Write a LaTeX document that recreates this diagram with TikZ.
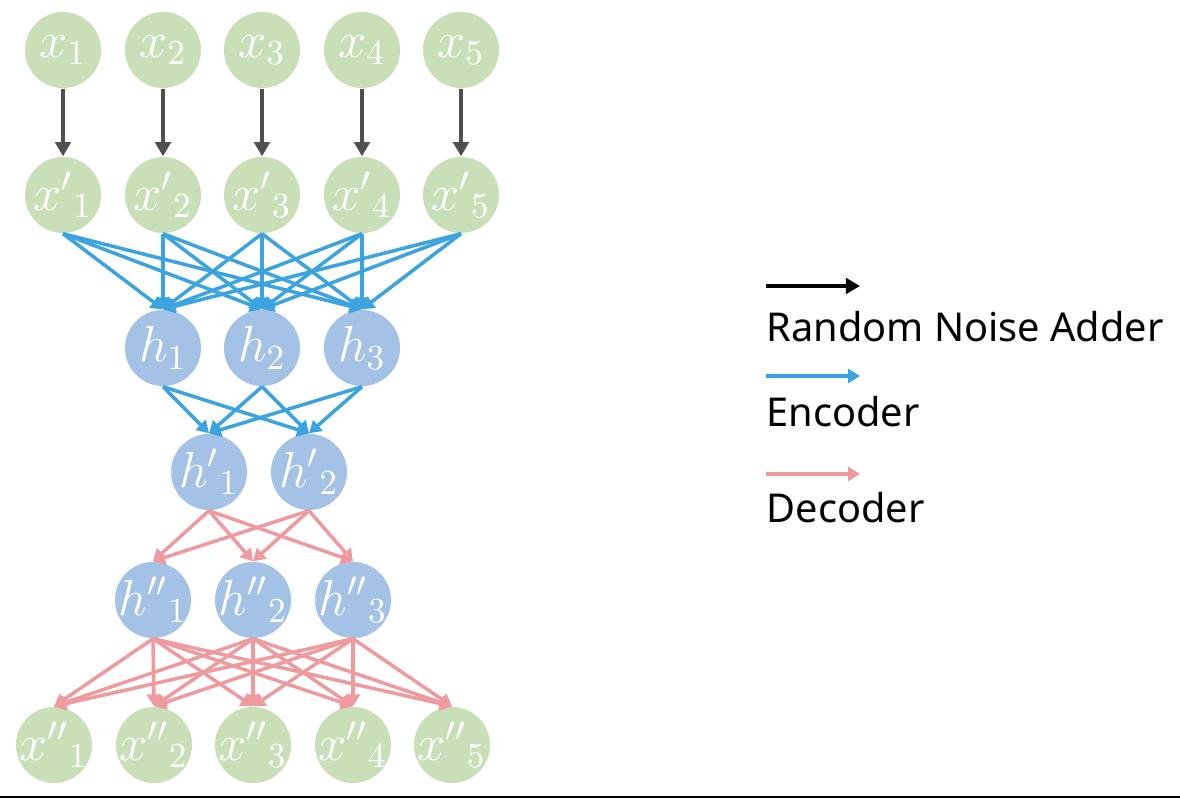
\documentclass[tikz,border=0pt]{standalone}
\usepackage{amsmath}
\usepackage{fontspec}
\newfontfamily\legendfont{Noto Sans}
\usetikzlibrary{arrows.meta}

\definecolor{inputgreen}{HTML}{C8DFB8}
\definecolor{hiddenblue}{HTML}{A3C2E6}
\definecolor{encblue}{HTML}{3AA3E0}
\definecolor{decpink}{HTML}{EE9A9E}
\definecolor{noisegray}{HTML}{4F4F4F}

\tikzset{
  neuron/.style={circle, minimum size=0.76cm, inner sep=-3pt, text=white,
    font=\fontsize{14.5}{16}\selectfont},
  xnode/.style={neuron, fill=inputgreen},
  hnode/.style={neuron, fill=hiddenblue},
  noise/.style={noisegray, line width=0.95pt, -{Triangle[length=4pt, width=4.4pt]}},
  enc/.style={encblue, line width=1pt, -{Triangle[length=3.4pt, width=4pt]}},
  dec/.style={decpink, line width=1pt, -{Triangle[length=3.4pt, width=4pt]}},
  legendtext/.style={anchor=base west, inner sep=0pt,
    font=\legendfont\fontsize{11.3}{14}\selectfont},
}

\begin{document}
\begin{tikzpicture}[x=0.01cm, y=-0.01cm]
  \useasboundingbox (0,0) rectangle (1180,798);

  % couches x et x'
  \foreach \i/\px in {1/63, 2/163, 3/262, 4/362, 5/461} {
    \node[xnode] (x\i) at (\px,50) {$x_\i$};
    \node[xnode] (xn\i) at (\px,195) {$x'{}_\i$};
    \node[xnode] (xnn\i) at (\px-9,745) {$x''{}_\i$};
  }

  % couches cachées
  \foreach \j/\px in {1/163, 2/262, 3/362}
    \node[hnode] (h\j) at (\px,348) {$h_\j$};
  \foreach \k/\px in {1/209, 2/309}
    \node[hnode] (hn\k) at (\px,472) {$h'{}_\k$};
  \foreach \j/\px in {1/153, 2/253, 3/353}
    \node[hnode] (hnn\j) at (\px,600) {$h''{}_\j$};

  % bruit
  \foreach \i in {1,...,5}
    \draw[noise] (x\i.south) -- (xn\i.north);

  % encodeur
  \foreach \i in {1,...,5}
    \foreach \j in {1,2,3}
      \draw[enc] (xn\i.south) -- (h\j.north);
  \foreach \j in {1,2,3}
    \foreach \k in {1,2}
      \draw[enc] (h\j.south) -- (hn\k.north);

  % décodeur
  \foreach \k in {1,2}
    \foreach \j in {1,2,3}
      \draw[dec] (hn\k.south) -- (hnn\j.north);
  \foreach \j in {1,2,3}
    \foreach \i in {1,...,5}
      \draw[dec] (hnn\j.south) -- (xnn\i.north);

  % légende
  \coordinate (noiseA) at (766,286);
  \coordinate (noiseB) at (860,286);
  \coordinate (encA) at (766,376);
  \coordinate (encB) at (860,376);
  \coordinate (decA) at (766,474);
  \coordinate (decB) at (860,474);
  \draw[noise, black] (noiseA) -- (noiseB);
  \draw[enc] (encA) -- (encB);
  \draw[dec] (decA) -- (decB);
  \node[legendtext] (noiselabel) at (766,342) {Random Noise Adder};
  \node[legendtext] (enclabel) at (766,427) {Encoder};
  \node[legendtext] (declabel) at (766,523) {Decoder};

  % trait du bas
  \draw[line width=0.5pt] (0,796.8) -- (1180,796.8);
\end{tikzpicture}
\end{document}
